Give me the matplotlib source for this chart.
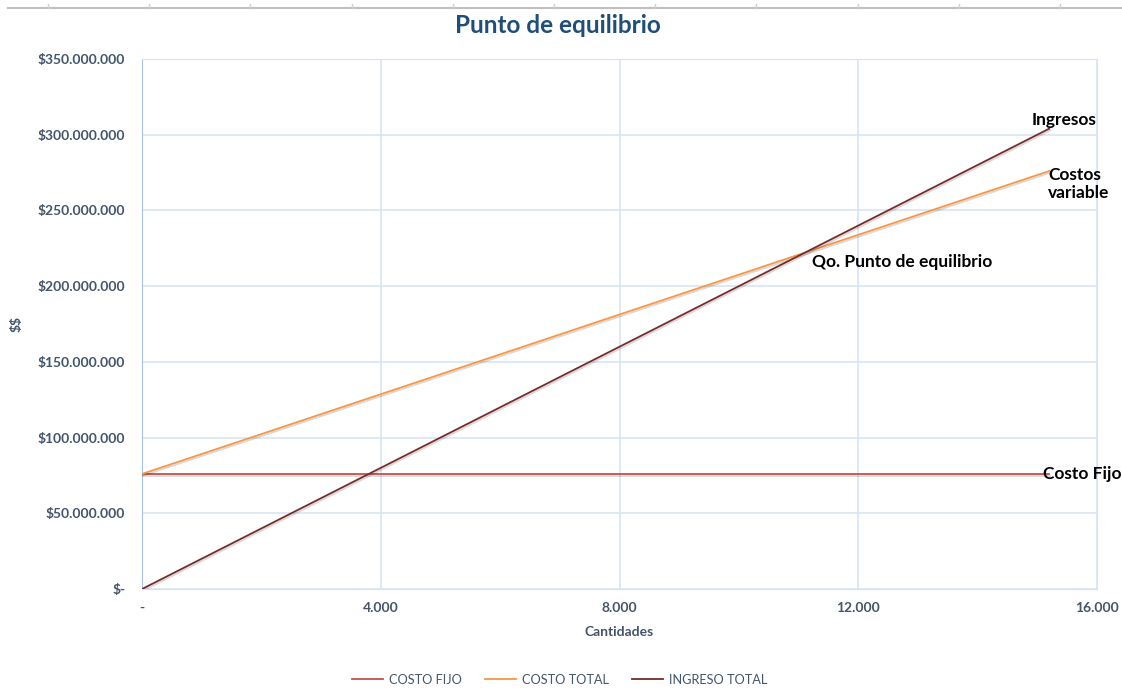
import matplotlib
matplotlib.use("Agg")
import matplotlib.pyplot as plt
import matplotlib.patheffects as pe
from matplotlib.ticker import FuncFormatter, MultipleLocator
from matplotlib.lines import Line2D

plt.rcParams['font.family'] = ['Lato', 'DejaVu Sans']
plt.rcParams['text.parse_math'] = False

# datos
cantidades = [0, 15200]
costo_fijo = [76000000, 76000000]
costo_total = [76000000, 276000000]
ingreso_total = [0, 304000000]

series = ["COSTO FIJO", "COSTO TOTAL", "INGRESO TOTAL"]
colores = ["#C0504D", "#F79646", "#772C2A"]

azul = "#44546A"
grilla = "#D6E3F4"

fig = plt.figure(figsize=(11.22, 6.91), dpi=100)
ax = fig.add_axes([0.1266, 0.1476, 0.8511, 0.767])

sombra = [pe.SimpleLineShadow(offset=(0.8, -1.2), alpha=0.15, rho=0.5), pe.Normal()]
for datos, nombre, col in zip([costo_fijo, costo_total, ingreso_total], series, colores):
    ax.plot(cantidades, datos, color=col, lw=1.3, label=nombre, path_effects=sombra, zorder=3)

ax.set_xlim(0, 16000)
ax.set_ylim(0, 350000000)
ax.xaxis.set_major_locator(MultipleLocator(4000))
ax.yaxis.set_major_locator(MultipleLocator(50000000))


def fmt_y(v, pos):
    if v == 0:
        return "$-"
    return "${:,.0f}".format(v).replace(",", ".")


def fmt_x(v, pos):
    if v == 0:
        return "-"
    return "{:,.0f}".format(v).replace(",", ".")


ax.yaxis.set_major_formatter(FuncFormatter(fmt_y))
ax.xaxis.set_major_formatter(FuncFormatter(fmt_x))
ax.grid(True, color=grilla, lw=1.1)
ax.set_axisbelow(True)
for s in ax.spines.values():
    s.set_color(grilla)
ax.spines['left'].set_color("#A9C4EB")
ax.tick_params(length=0, colors=azul, labelsize=10, pad=9)
ax.tick_params(axis='y', pad=12)
for t in ax.get_xticklabels() + ax.get_yticklabels():
    t.set_fontweight("bold")
    t.set_color(azul)

ax.set_xlabel("Cantidades", fontsize=10, fontweight="bold", color=azul, labelpad=9)
ax.set_ylabel("$$", fontsize=10, fontweight="bold", color=azul, labelpad=11)
fig.text(0.497, 0.963, "Punto de equilibrio", ha="center", va="center",
         fontsize=17.5, fontweight="bold", color="#1F4E79")

# etiquetas de las rectas
ax.text(14910, 310000000, "Ingresos", fontsize=12.5, fontweight="bold", ha="left", va="center")
ax.text(15180, 279000000, "Costos\nvariable", fontsize=12.5, fontweight="bold", ha="left", va="top",
        linespacing=1.2)
ax.text(11220, 216000000, "Qo. Punto de equilibrio", fontsize=12.5, fontweight="bold",
        ha="left", va="center")
ax.text(15094, 76000000, "Costo Fijo", fontsize=12.5, fontweight="bold", ha="left", va="center")

handles = [Line2D([], [], color=c, lw=1.3) for c in colores]
leg = fig.legend(handles, series, loc="center", bbox_to_anchor=(0.499, 0.016), ncol=3,
                 frameon=False, fontsize=9.2, handlelength=2.4, handletextpad=0.5, columnspacing=1.8)
for t in leg.get_texts():
    t.set_color(azul)

# linea gris superior (cabecera de la hoja)
fig.add_artist(Line2D([0.007, 1.0], [0.988, 0.988], color="#BFBFBF", lw=1.5))
for k in range(11):
    xx = (48 + 101.2 * k) / 1122
    fig.add_artist(Line2D([xx, xx], [0.988, 0.994], color="#D0D0D0", lw=1))

fig.savefig("out.png", dpi=100)
